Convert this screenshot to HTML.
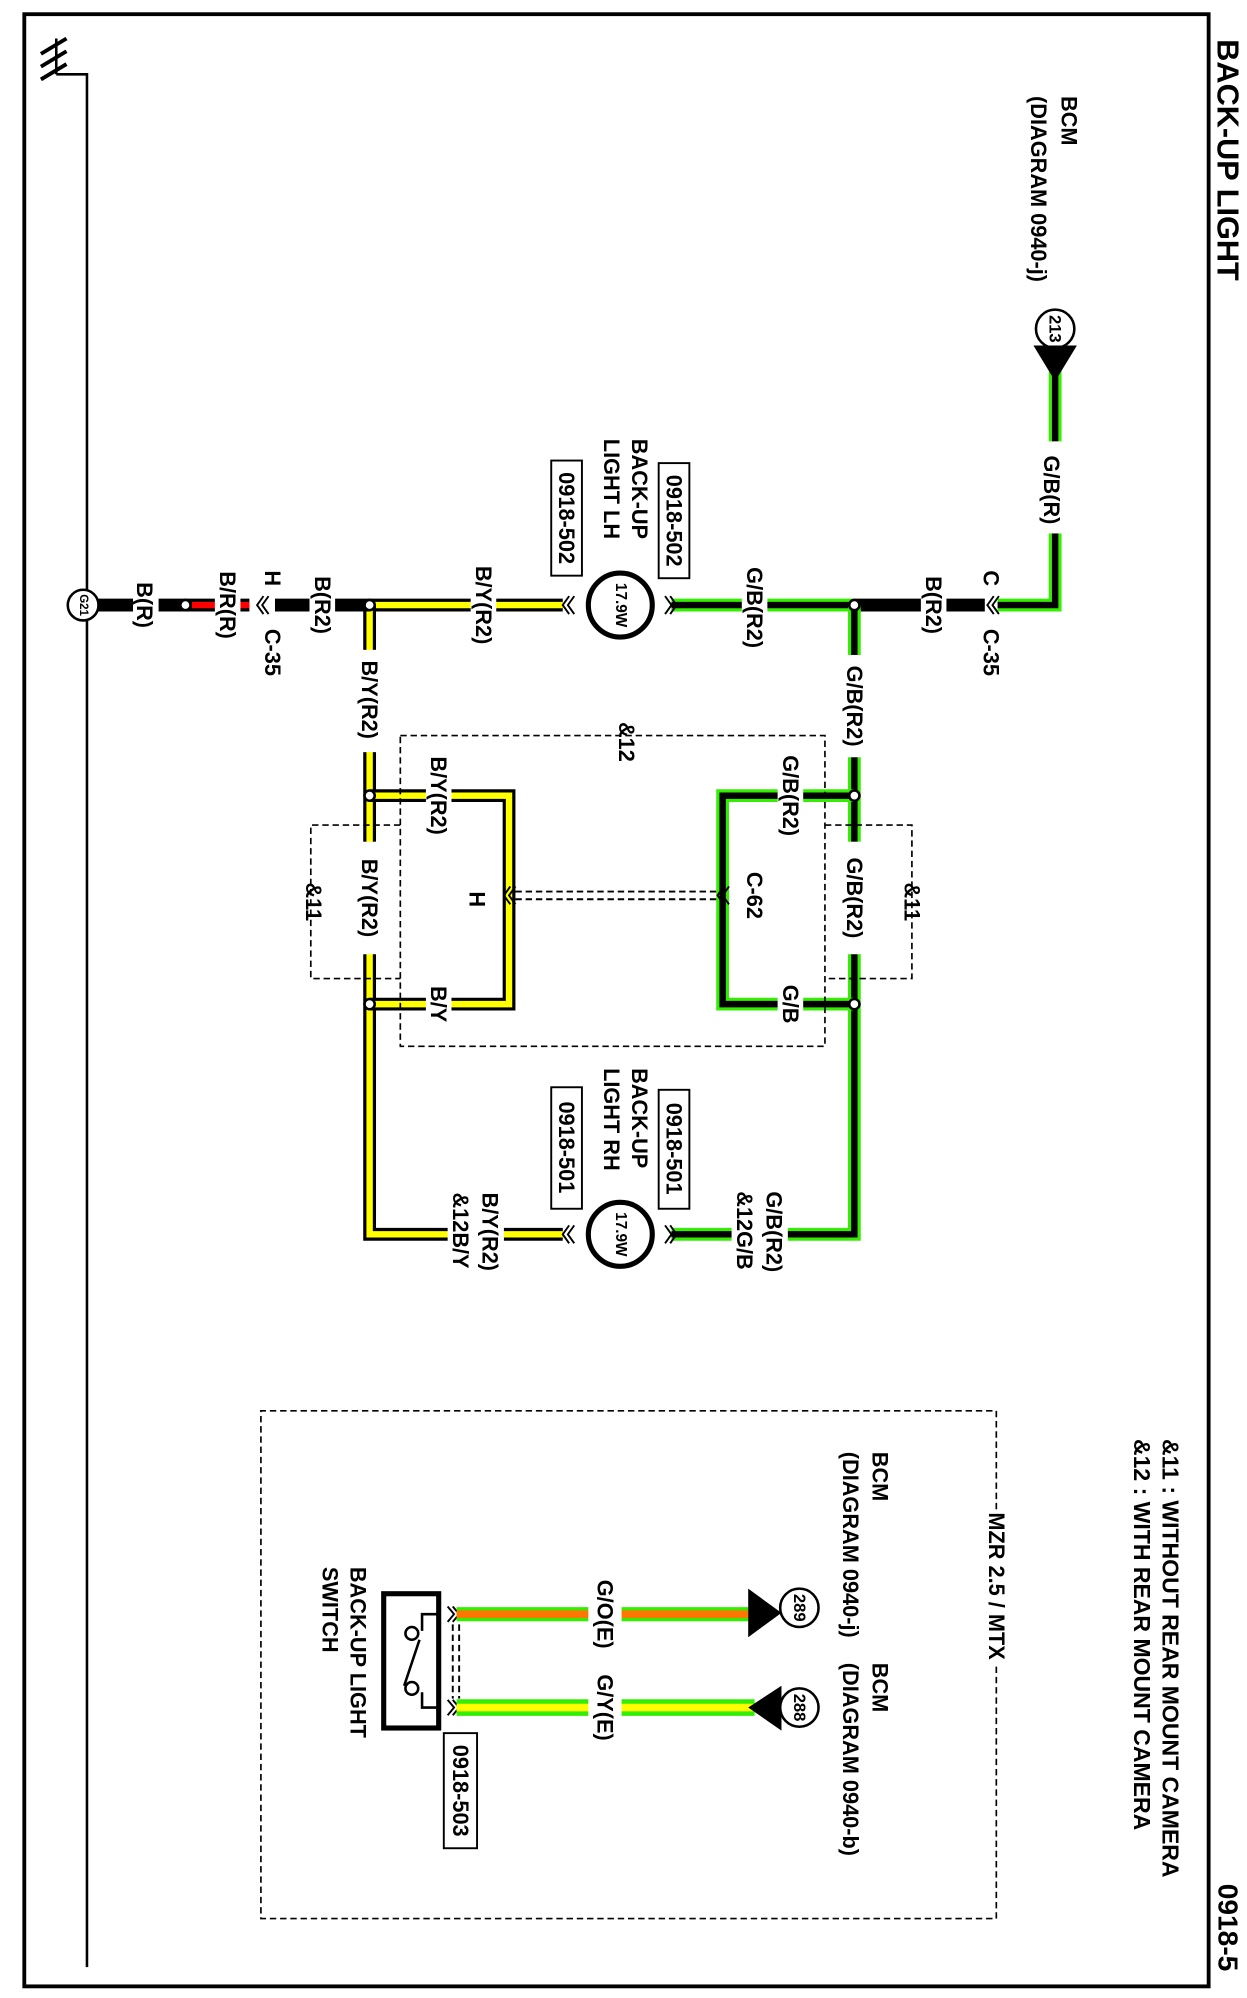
<!DOCTYPE html>
<html><head><meta charset="utf-8"><style>
html,body{margin:0;padding:0;background:#fff;}
svg{display:block;}
text{font-family:"Liberation Sans",sans-serif;font-weight:bold;fill:#000;}
</style></head><body>
<svg width="1247" height="1998" viewBox="0 0 975 1562" xmlns="http://www.w3.org/2000/svg">
<rect x="0" y="0" width="975" height="1562" fill="#fff"/>
<rect x="19" y="11" width="926" height="1542" fill="none" stroke="#000" stroke-width="3"/>
<!-- ground -->
<g stroke="#000" stroke-width="3" fill="none">
<line x1="32" y1="42" x2="52" y2="30"/>
<line x1="32" y1="52" x2="52" y2="40"/>
<line x1="32" y1="62" x2="52" y2="50"/>
</g>
<g stroke="#000" stroke-width="2" fill="none">
<line x1="44" y1="30" x2="44" y2="58"/>
<polyline points="44,58 68,58 68,1538"/>
</g>

<g fill="none" stroke-linejoin="miter">
<polyline points="780,473 825,473 825,290" stroke="#33ee00" stroke-width="10"/>
<polyline points="780,473 825,473 825,290" stroke="#000" stroke-width="5"/>
<line x1="525" y1="473" x2="668" y2="473" stroke="#33ee00" stroke-width="10"/>
<line x1="525" y1="473" x2="668" y2="473" stroke="#000" stroke-width="5"/>
<line x1="668" y1="473" x2="770" y2="473" stroke="#000" stroke-width="10"/>
<polyline points="668,473 668,965 525,965" stroke="#33ee00" stroke-width="10"/>
<polyline points="668,473 668,965 525,965" stroke="#000" stroke-width="5"/>
<polyline points="668,622 565,622 565,785 668,785" stroke="#33ee00" stroke-width="10"/>
<polyline points="668,622 565,622 565,785 668,785" stroke="#000" stroke-width="5"/>
<line x1="289" y1="473" x2="440" y2="473" stroke="#000" stroke-width="10"/>
<line x1="289" y1="473" x2="440" y2="473" stroke="#ffff00" stroke-width="5"/>
<polyline points="289,473 289,965 440,965" stroke="#000" stroke-width="10"/>
<polyline points="289,473 289,965 440,965" stroke="#ffff00" stroke-width="5"/>
<polyline points="289,622 398,622 398,785 289,785" stroke="#000" stroke-width="10"/>
<polyline points="289,622 398,622 398,785 289,785" stroke="#ffff00" stroke-width="5"/>
<line x1="68" y1="473" x2="145" y2="473" stroke="#000" stroke-width="10"/>
<line x1="145" y1="473" x2="195" y2="473" stroke="#000" stroke-width="10"/>
<line x1="150" y1="473" x2="195" y2="473" stroke="#ff0000" stroke-width="5"/>
<line x1="215" y1="473" x2="289" y2="473" stroke="#000" stroke-width="10"/>
</g>
<g fill="#fff">
<rect x="104" y="465" width="20" height="16"/>
<rect x="168" y="465" width="20" height="16"/>
<rect x="242" y="465" width="20" height="16"/>
<rect x="368" y="465" width="20" height="16"/>
<rect x="580" y="465" width="20" height="16"/>
<rect x="720" y="465" width="20" height="16"/>
<rect x="813" y="345" width="24" height="72"/>
<rect x="658" y="512" width="20" height="80"/>
<rect x="658" y="658" width="20" height="88"/>
<rect x="279" y="508" width="20" height="80"/>
<rect x="279" y="658" width="20" height="88"/>
<rect x="608" y="614" width="20" height="16"/>
<rect x="608" y="777" width="20" height="16"/>
<rect x="333" y="614" width="20" height="16"/>
<rect x="333" y="777" width="20" height="16"/>
<rect x="572" y="957" width="44" height="16"/>
<rect x="350" y="957" width="44" height="16"/>
</g>
<g fill="#fff" stroke="#000" stroke-width="2">
<circle cx="145" cy="473" r="4"/><circle cx="289" cy="473" r="4"/><circle cx="668" cy="473" r="4"/>
<circle cx="668" cy="622" r="4"/><circle cx="668" cy="785" r="4"/>
<circle cx="289" cy="622" r="4"/><circle cx="289" cy="785" r="4"/>
</g>
<g fill="none" stroke="#000" stroke-width="1.5">
<path d="M210,466 L205,473 L210,480 M206,466 L201,473 L206,480"/>
<path d="M781,466 L776,473 L781,480 M777,466 L772,473 L777,480"/>
<path d="M449,466 L444,473 L449,480 M445,466 L440,473 L445,480"/>
<path d="M520,466 L525,473 L520,480 M524,466 L529,473 L524,480"/>
<path d="M449,958 L444,965 L449,972 M445,958 L440,965 L445,972"/>
<path d="M520,958 L525,965 L520,972 M524,958 L529,965 L524,972"/>
<path d="M403,693 L398,700 L403,707 M399,693 L394,700 L399,707"/>
<path d="M570,693 L565,700 L570,707 M566,693 L561,700 L566,707"/>
<path d="M350,1256 L355,1262 L350,1268 M354,1256 L359,1262 L354,1268"/>
<path d="M350,1329 L355,1335 L350,1341 M354,1329 L359,1335 L354,1341"/>
</g>
<g stroke="#000" stroke-width="1.5" stroke-dasharray="5,3">
<line x1="403" y1="697" x2="561" y2="697"/><line x1="403" y1="703" x2="561" y2="703"/>
<line x1="354" y1="1270" x2="354" y2="1328"/><line x1="359" y1="1270" x2="359" y2="1328"/>
</g>
<g fill="#fff" stroke="#000" stroke-width="4">
<ellipse cx="485" cy="473" rx="25" ry="25"/>
<ellipse cx="485" cy="965" rx="25" ry="25"/>
</g>
<g fill="#fff" stroke="#000" stroke-width="2">
<ellipse cx="65" cy="473" rx="12" ry="12"/>
<ellipse cx="825" cy="257" rx="15" ry="15"/>
<ellipse cx="625" cy="1257" rx="15" ry="15"/>
<ellipse cx="625" cy="1335" rx="15" ry="15"/>
</g>
<polygon points="808,270 842,270 825,298" fill="#000"/>
<g fill="none" stroke="#000" stroke-width="1.3" stroke-dasharray="5,3">
<rect x="313" y="575" width="332" height="243"/>
<polyline points="313,645 243,645 243,765 313,765"/>
<polyline points="645,645 713,645 713,765 645,765"/>
<path d="M779,1180 L779,1103 L204,1103 L204,1500 L779,1500 L779,1300"/>
</g>
<g fill="none">
<line x1="357" y1="1262" x2="585" y2="1262" stroke="#33ee00" stroke-width="11"/>
<line x1="357" y1="1262" x2="585" y2="1262" stroke="#ff7700" stroke-width="6"/>
<line x1="357" y1="1335" x2="590" y2="1335" stroke="#33ee00" stroke-width="13"/>
<line x1="357" y1="1335" x2="590" y2="1335" stroke="#ffff00" stroke-width="6"/>
</g>
<rect x="460" y="1250" width="26" height="94" fill="#fff"/>
<polygon points="585,1242 585,1280 611,1261" fill="#000"/>
<polygon points="611,1318 611,1353 585,1335" fill="#000"/>
<rect x="300" y="1246" width="43" height="105" fill="#fff" stroke="#000" stroke-width="4"/>
<g fill="none" stroke="#000" stroke-width="2">
<polyline points="343,1262 330,1262 330,1275"/>
<polyline points="343,1335 330,1335 330,1323"/>
<line x1="328" y1="1282" x2="316" y2="1318"/>
</g>
<g fill="#fff" stroke="#000" stroke-width="2"><circle cx="322" cy="1277" r="5"/><circle cx="322" cy="1320" r="5"/></g>
<g fill="#fff" stroke="#000" stroke-width="1.5">
<rect x="515" y="362" width="24" height="90"/><rect x="431" y="360" width="24" height="90"/>
<rect x="515" y="852" width="24" height="93"/><rect x="431" y="850" width="24" height="95"/>
<rect x="347" y="1355" width="26" height="90"/>
</g>
<g font-size="17" text-anchor="middle" dominant-baseline="central">
<text transform="translate(960,125) rotate(90)" font-size="24" font-weight="normal">BACK-UP LIGHT</text>
<text transform="translate(960,1507) rotate(90)" font-size="22">0918-5</text>
<text transform="translate(836,75) rotate(90)" text-anchor="start">BCM</text>
<text transform="translate(812,75) rotate(90)" text-anchor="start">(DIAGRAM 0940-j)</text>
<text transform="translate(825,257) rotate(90)" font-size="13">213</text>
<text transform="translate(65,473) rotate(90)" font-size="9">G21</text>
<text transform="translate(485,473) rotate(90)" font-size="12">17.9W</text>
<text transform="translate(485,965) rotate(90)" font-size="12">17.9W</text>
<text transform="translate(625,1257) rotate(90)" font-size="13">289</text>
<text transform="translate(625,1335) rotate(90)" font-size="13">288</text>
<text transform="translate(822,383) rotate(90)">G/B(R)</text>
<text transform="translate(775,452) rotate(90)">C</text>
<text transform="translate(775,510) rotate(90)">C-35</text>
<text transform="translate(730,473) rotate(90)">B(R2)</text>
<text transform="translate(590,475) rotate(90)">G/B(R2)</text>
<text transform="translate(527,407) rotate(90)">0918-502</text>
<text transform="translate(443,405) rotate(90)">0918-502</text>
<text transform="translate(500,343) rotate(90)" text-anchor="start">BACK-UP</text>
<text transform="translate(478,343) rotate(90)" text-anchor="start">LIGHT LH</text>
<text transform="translate(378,473) rotate(90)">B/Y(R2)</text>
<text transform="translate(252,473) rotate(90)">B(R2)</text>
<text transform="translate(213,452) rotate(90)">H</text>
<text transform="translate(213,510) rotate(90)">C-35</text>
<text transform="translate(178,473) rotate(90)">B/R(R)</text>
<text transform="translate(113,473) rotate(90)">B(R)</text>
<text transform="translate(668,552) rotate(90)">G/B(R2)</text>
<text transform="translate(668,702) rotate(90)">G/B(R2)</text>
<text transform="translate(618,622) rotate(90)">G/B(R2)</text>
<text transform="translate(618,785) rotate(90)">G/B</text>
<text transform="translate(590,700) rotate(90)">C-62</text>
<text transform="translate(373,703) rotate(90)">H</text>
<text transform="translate(343,622) rotate(90)">B/Y(R2)</text>
<text transform="translate(343,785) rotate(90)">B/Y</text>
<text transform="translate(289,547) rotate(90)">B/Y(R2)</text>
<text transform="translate(289,702) rotate(90)">B/Y(R2)</text>
<text transform="translate(490,580) rotate(90)">&amp;12</text>
<text transform="translate(245,705) rotate(90)">&amp;11</text>
<text transform="translate(713,705) rotate(90)">&amp;11</text>
<text transform="translate(527,898) rotate(90)">0918-501</text>
<text transform="translate(443,897) rotate(90)">0918-501</text>
<text transform="translate(500,835) rotate(90)" text-anchor="start">BACK-UP</text>
<text transform="translate(478,835) rotate(90)" text-anchor="start">LIGHT RH</text>
<text transform="translate(605,963) rotate(90)">G/B(R2)</text>
<text transform="translate(582,962) rotate(90)">&amp;12G/B</text>
<text transform="translate(383,963) rotate(90)">B/Y(R2)</text>
<text transform="translate(360,962) rotate(90)">&amp;12B/Y</text>
<text transform="translate(915,1125) rotate(90)" text-anchor="start" font-size="18">&amp;11 : WITHOUT REAR MOUNT CAMERA</text>
<text transform="translate(893,1125) rotate(90)" text-anchor="start" font-size="18">&amp;12 : WITH REAR MOUNT CAMERA</text>
<text transform="translate(779,1240) rotate(90)">MZR 2.5 / MTX</text>
<text transform="translate(688,1135) rotate(90)" text-anchor="start">BCM</text>
<text transform="translate(665,1135) rotate(90)" text-anchor="start">(DIAGRAM 0940-j)</text>
<text transform="translate(688,1300) rotate(90)" text-anchor="start">BCM</text>
<text transform="translate(665,1300) rotate(90)" text-anchor="start">(DIAGRAM 0940-b)</text>
<text transform="translate(473,1262) rotate(90)">G/O(E)</text>
<text transform="translate(473,1335) rotate(90)">G/Y(E)</text>
<text transform="translate(360,1400) rotate(90)">0918-503</text>
<text transform="translate(280,1225) rotate(90)" text-anchor="start">BACK-UP LIGHT</text>
<text transform="translate(258,1225) rotate(90)" text-anchor="start">SWITCH</text>
</g>
</svg>
</body></html>
